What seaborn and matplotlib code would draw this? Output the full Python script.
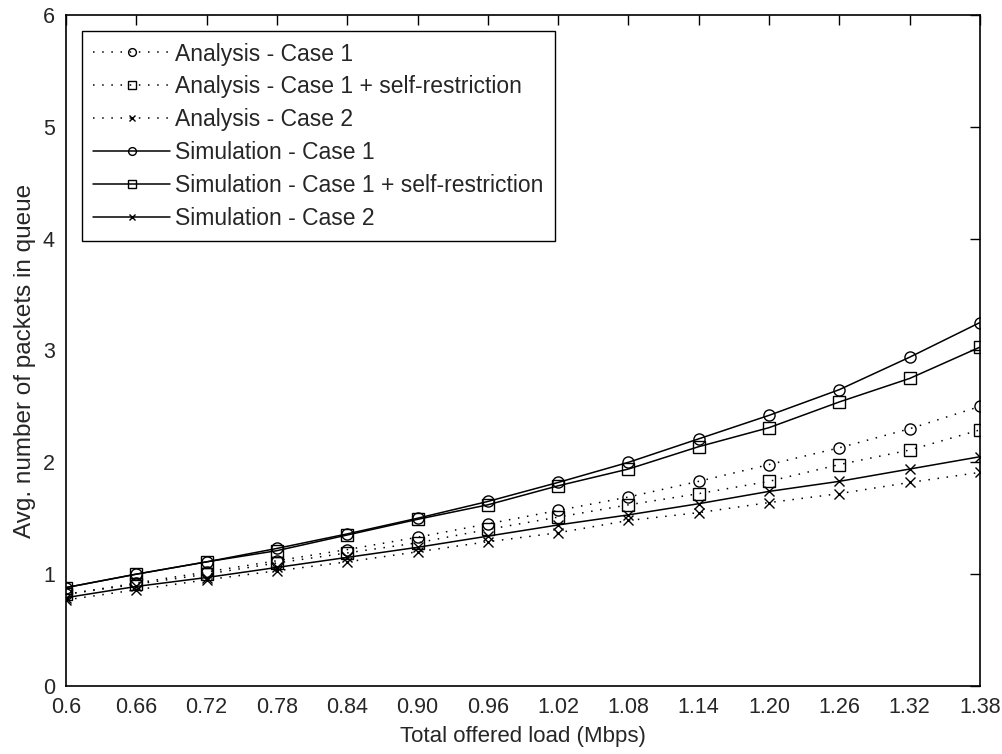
import matplotlib
matplotlib.use("Agg")
import matplotlib.pyplot as plt
import pandas as pd
import seaborn as sns

# Offered load (Mbps)
load = [0.60, 0.66, 0.72, 0.78, 0.84, 0.90, 0.96, 1.02, 1.08, 1.14, 1.20, 1.26, 1.32, 1.38]
load_labels = ["0.6", "0.66", "0.72", "0.78", "0.84", "0.90", "0.96", "1.02",
               "1.08", "1.14", "1.20", "1.26", "1.32", "1.38"]

# Avg. number of packets in queue
analysis_case1 = [0.82, 0.92, 1.02, 1.12, 1.22, 1.33, 1.45, 1.57, 1.69, 1.83, 1.98, 2.13, 2.30, 2.50]
analysis_case1_sr = [0.82, 0.91, 1.00, 1.10, 1.19, 1.28, 1.40, 1.51, 1.62, 1.72, 1.83, 1.98, 2.11, 2.29]
analysis_case2 = [0.77, 0.86, 0.95, 1.03, 1.11, 1.20, 1.29, 1.37, 1.48, 1.55, 1.64, 1.72, 1.82, 1.91]
simulation_case1 = [0.88, 1.00, 1.11, 1.23, 1.36, 1.50, 1.65, 1.82, 2.00, 2.21, 2.42, 2.65, 2.94, 3.25]
simulation_case1_sr = [0.88, 1.00, 1.11, 1.21, 1.35, 1.49, 1.62, 1.79, 1.94, 2.14, 2.31, 2.54, 2.75, 3.03]
simulation_case2 = [0.79, 0.89, 0.97, 1.06, 1.15, 1.24, 1.34, 1.44, 1.53, 1.63, 1.74, 1.83, 1.94, 2.05]

series = [
    ("Analysis - Case 1", analysis_case1, "o", ":"),
    ("Analysis - Case 1 + self-restriction", analysis_case1_sr, "s", ":"),
    ("Analysis - Case 2", analysis_case2, "x", ":"),
    ("Simulation - Case 1", simulation_case1, "o", "-"),
    ("Simulation - Case 1 + self-restriction", simulation_case1_sr, "s", "-"),
    ("Simulation - Case 2", simulation_case2, "x", "-"),
]

sns.set_theme(style="white")
plt.rcParams["font.family"] = ["Liberation Sans", "DejaVu Sans"]
plt.rcParams["xtick.direction"] = "in"
plt.rcParams["ytick.direction"] = "in"

fig = plt.figure(figsize=(10.03, 7.54), dpi=100)
ax = fig.add_axes([0.0658, 0.0902, 0.9112, 0.8899])

for name, vals, mk, ls in series:
    df = pd.DataFrame({"load": load, "queue": vals})
    kw = dict(dashes=(1, 5)) if ls == ":" else dict(linestyle="-")
    sns.lineplot(data=df, x="load", y="queue", ax=ax, color="black", linewidth=1.1,
                 marker=mk, markersize=8 if mk != "x" else 7, markerfacecolor="none",
                 markeredgecolor="black", markeredgewidth=1.0, label=name, **kw)

ax.set_xlim(0.6, 1.38)
ax.set_ylim(0, 6)
ax.set_xticks(load)
ax.set_xticklabels(load_labels)
ax.set_yticks(range(7))
ax.tick_params(axis="both", labelsize=15.5, length=7.5, width=1, top=True, right=True,
               color="black", pad=8)
for sp in ax.spines.values():
    sp.set_color("black")
    sp.set_linewidth(1.2)

ax.set_xlabel("Total offered load (Mbps)", fontsize=16)
ax.set_ylabel("Avg. number of packets in queue", fontsize=17.5)
ax.xaxis.set_label_coords(0.5, -0.06)
ax.yaxis.set_label_coords(-0.033, 0.484)

leg = ax.legend(loc="upper left", fontsize=16.5, handlelength=3.35, handletextpad=0.2,
                labelspacing=0.43, borderaxespad=0.7, borderpad=0.5,
                fancybox=False, framealpha=1, markerscale=0.7)
leg.get_frame().set_edgecolor("black")
leg.get_frame().set_linewidth(1.0)

fig.savefig("out.png", dpi=100, facecolor="white")
